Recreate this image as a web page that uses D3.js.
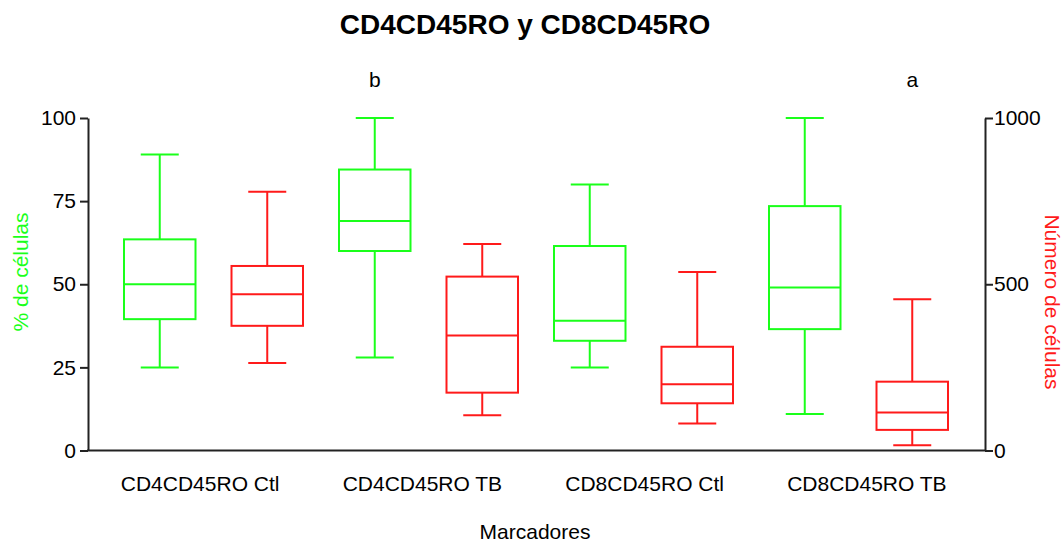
<!DOCTYPE html>
<html>
<head>
<meta charset="utf-8">
<script src="https://cdn.jsdelivr.net/npm/d3@7"></script>
<style>
body { margin: 0; background: #fff; }
svg text { font-family: "Liberation Sans", Arial, sans-serif; }
</style>
</head>
<body>
<svg id="chart" width="1063" height="542"></svg>
<script>
var categories = ["CD4CD45RO Ctl", "CD4CD45RO TB", "CD8CD45RO Ctl", "CD8CD45RO TB"];
var series = ["pct", "num"];

// % de células (left axis)
var pctMin = [25, 28, 25, 11];
var pctQ1 = [39.5, 60, 33, 36.5];
var pctMed = [50, 69, 39, 49];
var pctQ3 = [63.5, 84.5, 61.5, 73.5];
var pctMax = [89, 100, 80, 100];

// Número de células (right axis)
var numMin = [263, 106, 81, 16];
var numQ1 = [375, 174, 142, 62];
var numMed = [470, 346, 199, 114];
var numQ3 = [555, 523, 312, 207];
var numMax = [778, 621, 537, 455];

var leftTicks = [0, 25, 50, 75, 100];
var rightTicks = [0, 500, 1000];

var sigLetters = [
    {cat: "CD4CD45RO TB", s: "pct", text: "b"},
    {cat: "CD8CD45RO TB", s: "num", text: "a"}
];

var green = "#1aff1a", red = "#ff1a1a", ink = "#222";
var font = "'Liberation Sans', Arial, sans-serif";
var svg = d3.select("#chart");

var x = d3.scaleBand().domain(categories).range([106, 966]);
var xs = d3.scalePoint().domain(series).range([0, x.bandwidth()]).padding(0.5);
// category labels sit on their own slightly wider spacing
var xLab = d3.scaleBand().domain(categories).range([89, 978]);
var yL = d3.scaleLinear().domain([0, 100]).range([450.5, 118]);
var yR = d3.scaleLinear().domain([0, 1000]).range([450.5, 118]);

var boxW = 71.5, capW = 38;

var boxes = [];
categories.forEach(function(c, i) {
    boxes.push({cat: c, s: "pct", y: yL, color: green,
        min: pctMin[i], q1: pctQ1[i], med: pctMed[i], q3: pctQ3[i], max: pctMax[i]});
    boxes.push({cat: c, s: "num", y: yR, color: red,
        min: numMin[i], q1: numQ1[i], med: numMed[i], q3: numQ3[i], max: numMax[i]});
});

function cx(d) { return x(d.cat) + xs(d.s); }

var g = svg.append("g").selectAll("g.box")
    .data(boxes)
    .enter()
    .append("g")
    .attr("class", "box")
    .style("stroke", function(d) { return d.color; })
    .style("stroke-width", 2)
    .style("fill", "none");

// whiskers
g.append("line")
    .attr("x1", cx).attr("x2", cx)
    .attr("y1", function(d) { return d.y(d.max); })
    .attr("y2", function(d) { return d.y(d.q3); });
g.append("line")
    .attr("x1", cx).attr("x2", cx)
    .attr("y1", function(d) { return d.y(d.q1); })
    .attr("y2", function(d) { return d.y(d.min); });
g.append("line")
    .attr("x1", function(d) { return cx(d) - capW / 2; })
    .attr("x2", function(d) { return cx(d) + capW / 2; })
    .attr("y1", function(d) { return d.y(d.max); })
    .attr("y2", function(d) { return d.y(d.max); });
g.append("line")
    .attr("x1", function(d) { return cx(d) - capW / 2; })
    .attr("x2", function(d) { return cx(d) + capW / 2; })
    .attr("y1", function(d) { return d.y(d.min); })
    .attr("y2", function(d) { return d.y(d.min); });
// box
g.append("rect")
    .attr("x", function(d) { return cx(d) - boxW / 2; })
    .attr("width", boxW)
    .attr("y", function(d) { return d.y(d.q3); })
    .attr("height", function(d) { return d.y(d.q1) - d.y(d.q3); });
// median
g.append("line")
    .attr("x1", function(d) { return cx(d) - boxW / 2; })
    .attr("x2", function(d) { return cx(d) + boxW / 2; })
    .attr("y1", function(d) { return d.y(d.med); })
    .attr("y2", function(d) { return d.y(d.med); });

// axes
var axL = svg.append("g")
    .attr("transform", "translate(88,0)")
    .call(d3.axisLeft(yL).tickValues(leftTicks).tickFormat(d3.format("d"))
        .tickSize(8).tickPadding(4).tickSizeOuter(0));
var axR = svg.append("g")
    .attr("transform", "translate(985,0)")
    .call(d3.axisRight(yR).tickValues(rightTicks).tickFormat(d3.format("d"))
        .tickSize(8).tickPadding(1).tickSizeOuter(0));
[axL, axR].forEach(function(a) {
    a.select(".domain").attr("stroke", ink).attr("stroke-width", 2);
    a.selectAll(".tick line").attr("stroke", ink).attr("stroke-width", 2);
    a.selectAll(".tick text").attr("fill", "#000").style("font-size", "21px")
        .style("font-family", font);
});

svg.append("line")
    .attr("x1", 87).attr("x2", 986)
    .attr("y1", yL(0)).attr("y2", yL(0))
    .attr("stroke", ink).attr("stroke-width", 2);

// category labels
svg.selectAll("text.cat")
    .data(categories)
    .enter()
    .append("text")
    .attr("class", "cat")
    .attr("x", function(d) { return xLab(d) + xLab.bandwidth() / 2; })
    .attr("y", 491)
    .attr("text-anchor", "middle")
    .style("font-size", "21px")
    .text(function(d) { return d; });

// significance letters
svg.selectAll("text.sig")
    .data(sigLetters)
    .enter()
    .append("text")
    .attr("class", "sig")
    .attr("x", function(d) { return x(d.cat) + xs(d.s); })
    .attr("y", 87)
    .attr("text-anchor", "middle")
    .style("font-size", "21px")
    .text(function(d) { return d.text; });

svg.append("text")
    .attr("x", 525).attr("y", 34)
    .attr("text-anchor", "middle")
    .style("font-size", "28px").style("font-weight", "bold")
    .text("CD4CD45RO y CD8CD45RO");

svg.append("text")
    .attr("x", 535).attr("y", 539)
    .attr("text-anchor", "middle")
    .style("font-size", "21px")
    .text("Marcadores");

svg.append("text")
    .attr("transform", "translate(28,272) rotate(-90)")
    .attr("text-anchor", "middle")
    .style("font-size", "21px")
    .attr("fill", green)
    .text("% de células");

svg.append("text")
    .attr("transform", "translate(1045,302) rotate(90)")
    .attr("text-anchor", "middle")
    .style("font-size", "21px")
    .attr("fill", red)
    .text("Número de células");
</script>
</body>
</html>
